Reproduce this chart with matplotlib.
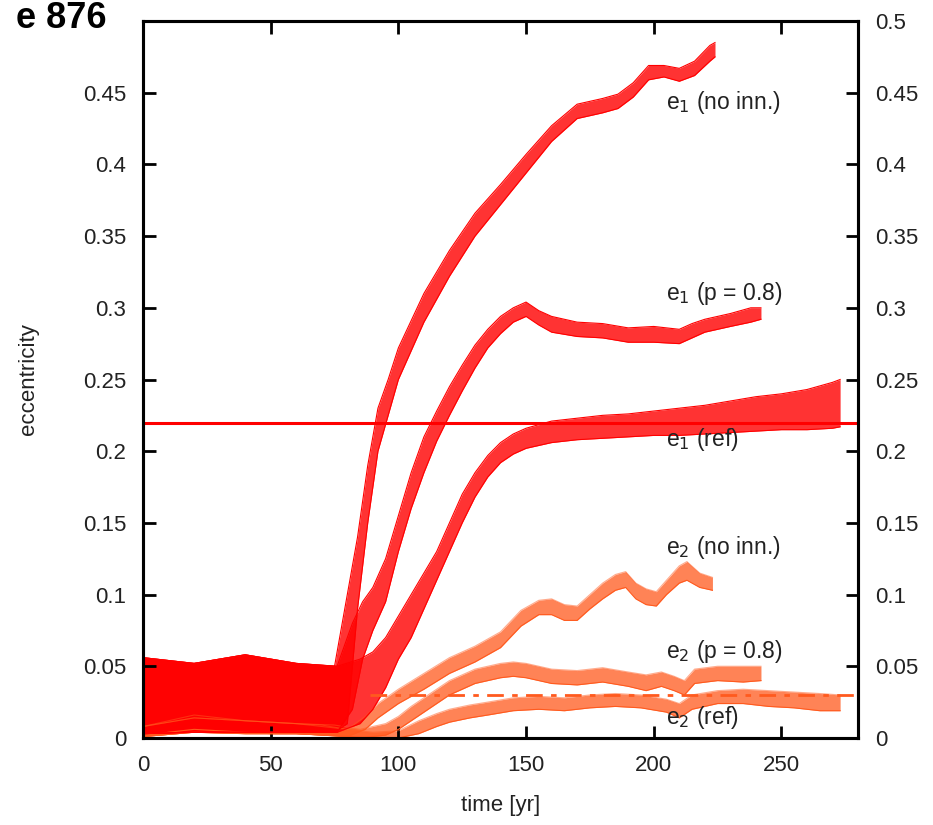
import matplotlib
matplotlib.use("Agg")
import matplotlib.pyplot as plt

plt.rcParams['font.family'] = ['Liberation Sans', 'DejaVu Sans']

# ---- data (lower / upper edge of each noisy track) ----
t_e1_noinn = [0, 20, 40, 60, 75, 80, 84, 88, 92, 96, 100, 110, 120, 130, 140, 150,
              160, 170, 180, 186, 192, 198, 204, 210, 216, 222, 224]
lo_e1_noinn = [0.003, 0.004, 0.004, 0.004, 0.004, 0.01, 0.09, 0.15, 0.2, 0.225, 0.25,
               0.29, 0.322, 0.35, 0.372, 0.394, 0.416, 0.432, 0.436, 0.439, 0.447,
               0.459, 0.461, 0.458, 0.462, 0.472, 0.475]
hi_e1_noinn = [0.056, 0.052, 0.058, 0.052, 0.05, 0.10, 0.14, 0.19, 0.23, 0.25, 0.272,
               0.31, 0.34, 0.366, 0.386, 0.407, 0.427, 0.442, 0.446, 0.449, 0.457,
               0.469, 0.469, 0.467, 0.472, 0.483, 0.485]

t_e1_p08 = [0, 20, 40, 60, 76, 82, 86, 90, 95, 100, 105, 110, 115, 120, 125, 130, 135,
            140, 145, 150, 155, 160, 170, 180, 190, 200, 210, 215, 220, 230, 238, 242]
lo_e1_p08 = [0.003, 0.004, 0.004, 0.004, 0.004, 0.02, 0.055, 0.075, 0.095, 0.13, 0.16,
             0.185, 0.207, 0.225, 0.242, 0.258, 0.272, 0.282, 0.29, 0.294, 0.288, 0.283,
             0.28, 0.279, 0.276, 0.276, 0.275, 0.279, 0.283, 0.287, 0.29, 0.292]
hi_e1_p08 = [0.056, 0.052, 0.058, 0.052, 0.05, 0.08, 0.095, 0.105, 0.125, 0.155, 0.185,
             0.21, 0.228, 0.245, 0.26, 0.274, 0.285, 0.294, 0.3, 0.304, 0.298, 0.294,
             0.29, 0.289, 0.286, 0.287, 0.285, 0.289, 0.292, 0.296, 0.3, 0.3]

t_e1_ref = [0, 20, 40, 60, 76, 85, 90, 95, 100, 105, 110, 115, 120, 125, 130, 135, 140,
            145, 150, 160, 170, 180, 190, 200, 210, 220, 230, 240, 250, 260, 270, 273]
lo_e1_ref = [0.003, 0.004, 0.004, 0.004, 0.004, 0.01, 0.02, 0.035, 0.055, 0.07, 0.09,
             0.11, 0.13, 0.15, 0.168, 0.182, 0.192, 0.198, 0.202, 0.206, 0.208, 0.209,
             0.21, 0.211, 0.211, 0.212, 0.213, 0.214, 0.215, 0.215, 0.216, 0.217]
hi_e1_ref = [0.056, 0.052, 0.058, 0.052, 0.05, 0.055, 0.06, 0.07, 0.085, 0.1, 0.115,
             0.13, 0.15, 0.17, 0.185, 0.197, 0.206, 0.212, 0.216, 0.221, 0.223, 0.225,
             0.226, 0.228, 0.23, 0.232, 0.235, 0.238, 0.24, 0.243, 0.248, 0.25]

t_e2_noinn = [0, 10, 20, 30, 40, 50, 60, 70, 80, 87, 92, 100, 110, 120, 130, 140, 148,
              155, 160, 165, 170, 175, 180, 185, 189, 193, 197, 201, 205, 210, 213, 218, 223]
lo_e2_noinn = [0.001, 0.004, 0.006, 0.005, 0.004, 0.003, 0.003, 0.002, 0.001, 0.006,
               0.014, 0.024, 0.034, 0.045, 0.053, 0.063, 0.078, 0.086, 0.086, 0.082,
               0.082, 0.09, 0.097, 0.103, 0.105, 0.097, 0.093, 0.092, 0.1, 0.108, 0.11,
               0.105, 0.103]
hi_e2_noinn = [0.008, 0.012, 0.016, 0.014, 0.012, 0.011, 0.01, 0.009, 0.006, 0.015,
               0.024, 0.034, 0.045, 0.056, 0.064, 0.074, 0.089, 0.096, 0.097, 0.093,
               0.092, 0.1, 0.108, 0.114, 0.116, 0.108, 0.104, 0.102, 0.11, 0.12, 0.123,
               0.115, 0.112]

t_e2_p08 = [0, 20, 40, 60, 75, 85, 95, 100, 105, 110, 115, 120, 125, 130, 140, 145, 150,
            160, 170, 180, 190, 197, 203, 208, 212, 216, 225, 235, 242]
lo_e2_p08 = [0.001, 0.004, 0.003, 0.003, 0.002, 0.0, 0.002, 0.006, 0.012, 0.018, 0.024,
             0.03, 0.034, 0.038, 0.042, 0.043, 0.042, 0.038, 0.037, 0.039, 0.036, 0.033,
             0.036, 0.033, 0.03, 0.038, 0.04, 0.039, 0.04]
hi_e2_p08 = [0.008, 0.014, 0.012, 0.01, 0.009, 0.006, 0.01, 0.015, 0.022, 0.028, 0.034,
             0.04, 0.044, 0.048, 0.052, 0.053, 0.052, 0.048, 0.047, 0.049, 0.046, 0.044,
             0.046, 0.043, 0.04, 0.048, 0.05, 0.05, 0.05]

t_e2_ref = [0, 20, 40, 60, 80, 90, 100, 108, 115, 120, 128, 135, 145, 155, 165, 175,
            185, 195, 205, 210, 215, 225, 235, 245, 255, 265, 273]
lo_e2_ref = [0.001, 0.004, 0.003, 0.003, 0.001, 0.0, 0.0, 0.003, 0.008, 0.011, 0.014,
             0.016, 0.019, 0.02, 0.019, 0.021, 0.022, 0.021, 0.018, 0.014, 0.02, 0.024,
             0.024, 0.022, 0.021, 0.019, 0.019]
hi_e2_ref = [0.008, 0.014, 0.012, 0.01, 0.006, 0.004, 0.005, 0.012, 0.017, 0.02, 0.023,
             0.025, 0.028, 0.029, 0.028, 0.03, 0.031, 0.03, 0.027, 0.024, 0.03, 0.033,
             0.034, 0.033, 0.032, 0.031, 0.03]

ref_e1_level = 0.22
ref_e2_level = 0.03
ref_e2_start = 89

labels = ["e$_1$ (no inn.)", "e$_1$ (p = 0.8)", "e$_1$ (ref)",
          "e$_2$ (no inn.)", "e$_2$ (p = 0.8)", "e$_2$ (ref)"]
label_y = [0.443, 0.310, 0.208, 0.1325, 0.060, 0.014]
label_t = 205

red = "#ff0000"
orange = "#ff5a1e"
txt = "#222222"

fig = plt.figure(figsize=(9.33, 8.25), dpi=100)
ax = fig.add_axes([0.1533, 0.1055, 0.7663, 0.869])

for t, lo, hi in [(t_e2_noinn, lo_e2_noinn, hi_e2_noinn),
                  (t_e2_p08, lo_e2_p08, hi_e2_p08),
                  (t_e2_ref, lo_e2_ref, hi_e2_ref)]:
    ax.fill_between(t, lo, hi, color=orange, alpha=0.75, lw=0)
    ax.plot(t, lo, color=orange, lw=0.8)
    ax.plot(t, hi, color=orange, lw=0.8, alpha=0.5)

for t, lo, hi in [(t_e1_noinn, lo_e1_noinn, hi_e1_noinn),
                  (t_e1_p08, lo_e1_p08, hi_e1_p08),
                  (t_e1_ref, lo_e1_ref, hi_e1_ref)]:
    ax.fill_between(t, lo, hi, color=red, alpha=0.8, lw=0)
    ax.plot(t, lo, color=red, lw=0.8)
    ax.plot(t, hi, color=red, lw=0.8)

ax.axhline(ref_e1_level, color=red, lw=2.2)
ax.plot([ref_e2_start, 280], [ref_e2_level, ref_e2_level], color=orange, lw=2,
        linestyle=(0, (6, 3, 2, 3)))

for lab, y in zip(labels, label_y):
    ax.text(label_t, y, lab, fontsize=16.5, color=txt, va="center", ha="left")

ax.set_xlim(0, 280)
ax.set_ylim(0, 0.5)
yt = [0, 0.05, 0.1, 0.15, 0.2, 0.25, 0.3, 0.35, 0.4, 0.45, 0.5]
ytl = ["0", "0.05", "0.1", "0.15", "0.2", "0.25", "0.3", "0.35", "0.4", "0.45", "0.5"]
ax.set_yticks(yt)
ax.set_yticklabels(ytl[:-1] + [""])
ax.set_xticks([0, 50, 100, 150, 200, 250])
ax.tick_params(direction="in", length=9, width=2, labelsize=16, top=True, right=True,
               labelcolor=txt, pad=12)

ax2 = ax.twinx()
ax2.set_ylim(0, 0.5)
ax2.set_yticks(yt)
ax2.set_yticklabels(ytl)
ax2.tick_params(direction="in", length=9, width=2, labelsize=16, labelcolor=txt,
                pad=12)

for a in (ax, ax2):
    for s in a.spines.values():
        s.set_linewidth(2.2)

ax.set_ylabel("eccentricity", fontsize=16, color=txt, labelpad=32)
ax.set_xlabel("time [yr]", fontsize=16, color=txt, labelpad=14)

fig.text(107 / 933, 1 - 28 / 825, "e 876", fontsize=26, fontweight="bold",
         ha="right", va="baseline")

fig.savefig("out.png", dpi=100)
